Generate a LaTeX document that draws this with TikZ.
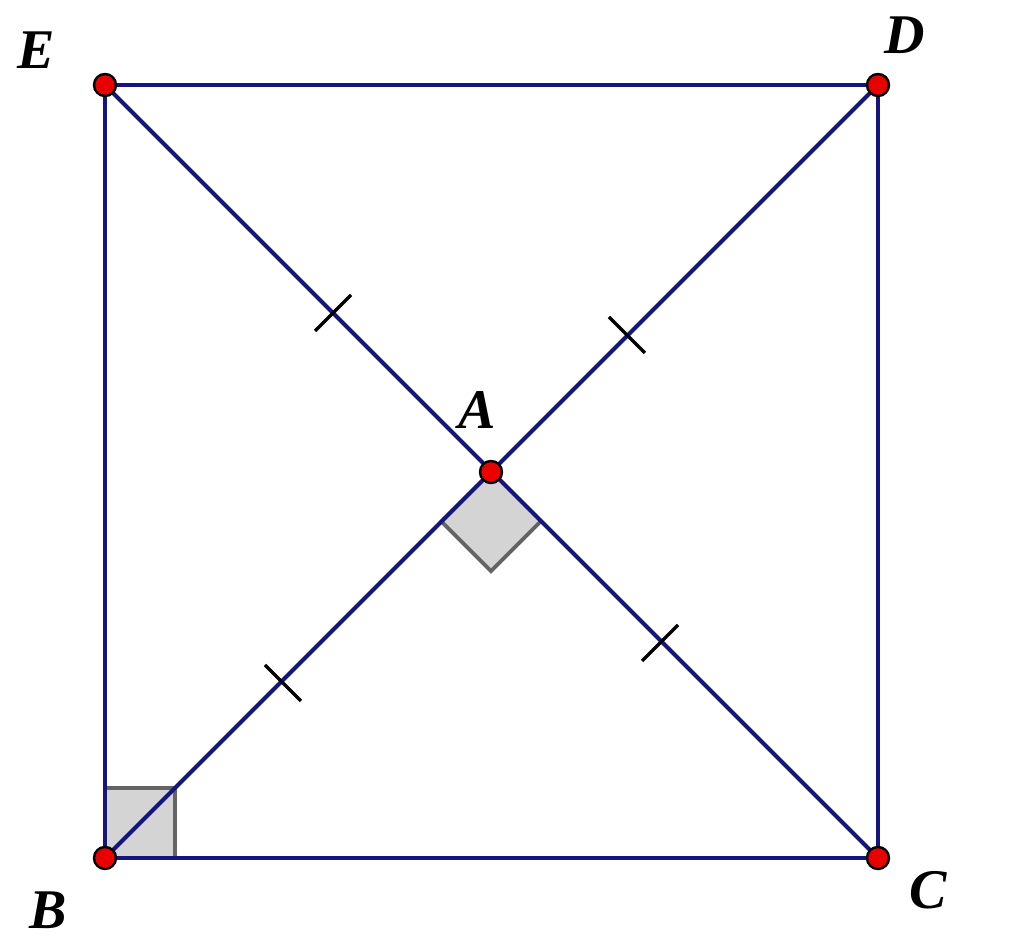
\documentclass[tikz,border=0pt]{standalone}
\usepackage{fontspec}
\setmainfont{Liberation Serif}
\usetikzlibrary{calc}
\definecolor{navy}{RGB}{20,20,130}
\definecolor{markgray}{RGB}{100,100,100}
\definecolor{fillgray}{RGB}{212,212,212}
\definecolor{ptred}{RGB}{235,0,0}
\begin{document}
\begin{tikzpicture}[x=0.5pt,y=-0.5pt,
  seg/.style={draw=navy,line width=2pt},
  tick/.style={draw=black,line width=1.6pt},
  ra/.style={draw=markgray,fill=fillgray,line width=1.8pt},
  pt/.style={circle,draw=black,fill=ptred,line width=1.2pt,minimum size=11pt,inner sep=0pt},
  lab/.style={font=\fontsize{28}{30}\selectfont\bfseries\itshape,inner sep=0pt}]
\useasboundingbox (0,0) rectangle (1024,945);
\coordinate (E) at (105,85);
\coordinate (D) at (878,85);
\coordinate (B) at (105,858);
\coordinate (C) at (878,858);
\coordinate (A) at (491,472);
% right angle marks
\path[ra] (B) -- ++(70,0) -- ++(0,-70) -- ++(-70,0) -- cycle;
\path[ra] (A) -- ++(-49.5,49.5) -- ++(49.5,49.5) -- ++(49.5,-49.5) -- cycle;
\path[fill=fillgray] (B) -- ++(70,0) -- ++(0,-70) -- ++(-70,0) -- cycle;
\draw[draw=markgray,line width=1.8pt] ($(B)+(0,-70)$) -- ++(70,0) -- ++(0,70);
\path[fill=fillgray] (A) -- ++(-49.5,49.5) -- ++(49.5,49.5) -- ++(49.5,-49.5) -- cycle;
\draw[draw=markgray,line width=1.8pt] ($(A)+(-49.5,49.5)$) -- ++(49.5,49.5) -- ++(49.5,-49.5);
% segments
\draw[seg] (E) -- (D) -- (C) -- (B) -- cycle;
\draw[seg] (E) -- (C);
\draw[seg] (B) -- (D);
% ticks
\coordinate (t1) at (333,313);
\coordinate (t2) at (627,335);
\coordinate (t3) at (283,683);
\coordinate (t4) at (660,643);
\draw[tick] ($(t1)+(18,-18)$) -- ($(t1)+(-18,18)$);
\draw[tick] ($(t2)+(-18,-18)$) -- ($(t2)+(18,18)$);
\draw[tick] ($(t3)+(-18,-18)$) -- ($(t3)+(18,18)$);
\draw[tick] ($(t4)+(18,-18)$) -- ($(t4)+(-18,18)$);
% points
\node[pt] (pE) at (E) {};
\node[pt] (pD) at (D) {};
\node[pt] (pB) at (B) {};
\node[pt] (pC) at (C) {};
\node[pt] (pA) at (A) {};
% labels
\node[lab] (lE) at (36,50) {E};
\node[lab] (lD) at (905,35) {D};
\node[lab] (lA) at (477,410) {A};
\node[lab] (lB) at (48,910) {B};
\node[lab] (lC) at (928,890) {C};
\end{tikzpicture}
\end{document}
